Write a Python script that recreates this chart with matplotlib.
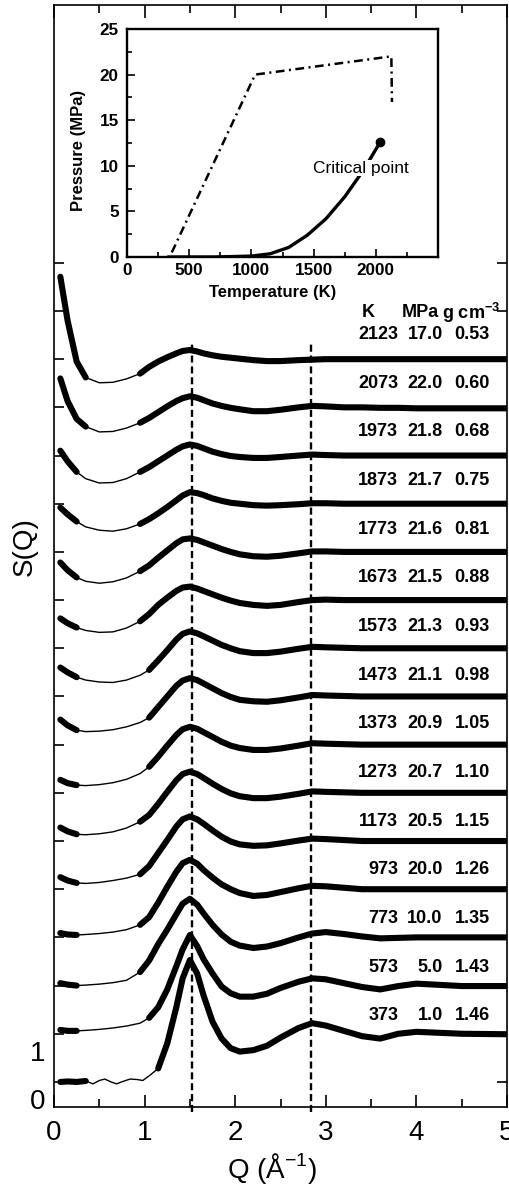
import matplotlib.pyplot as plt
import numpy as np
from matplotlib.ticker import MultipleLocator
from matplotlib.transforms import ScaledTranslation

plt.rcParams['font.family'] = ['Liberation Sans', 'DejaVu Sans']
plt.rcParams['mathtext.fontset'] = 'custom'
plt.rcParams['mathtext.rm'] = 'Liberation Sans'
plt.rcParams['mathtext.bf'] = 'Liberation Sans:bold'

# --- table of states, bottom curve first ---
temps = ['373', '573', '773', '973', '1173', '1273', '1373', '1473', '1573',
         '1673', '1773', '1873', '1973', '2073', '2123']
pressures = ['1.0', '5.0', '10.0', '20.0', '20.5', '20.7', '20.9', '21.1', '21.3',
             '21.5', '21.6', '21.7', '21.8', '22.0', '17.0']
densities = ['1.46', '1.43', '1.35', '1.26', '1.15', '1.10', '1.05', '0.98', '0.93',
             '0.88', '0.81', '0.75', '0.68', '0.60', '0.53']

# --- S(Q) ---
q = [0.07, 0.15, 0.25, 0.35, 0.5, 0.65, 0.8, 0.95, 1.05, 1.15, 1.25, 1.35, 1.42, 1.5,
     1.58, 1.65, 1.75, 1.85, 1.95, 2.05, 2.2, 2.35, 2.5, 2.7, 2.85, 3.0, 3.2, 3.4,
     3.6, 3.8, 4.0, 4.5, 5.0]

s_373 = [0.0, 0.01, 0.0, 0.02, 0.03, 0.0, 0.03, 0.04, 0.14, 0.28, 0.80, 1.55, 2.15, 2.53,
         2.25, 1.80, 1.25, 0.90, 0.70, 0.63, 0.66, 0.75, 0.92, 1.12, 1.22, 1.17, 1.06, 0.95,
         0.90, 1.0, 1.04, 1.0, 0.99]
s_573 = [0.08, 0.06, 0.06, 0.07, 0.09, 0.12, 0.16, 0.22, 0.33, 0.55, 0.92, 1.40, 1.75, 2.05,
         1.82, 1.55, 1.25, 0.98, 0.84, 0.77, 0.77, 0.83, 0.95, 1.08, 1.15, 1.13, 1.05, 0.97,
         0.92, 0.99, 1.04, 0.99, 0.99]
s_773 = [0.05, 0.02, 0.0, 0.01, 0.03, 0.06, 0.11, 0.28, 0.52, 0.86, 1.16, 1.48, 1.70, 1.80,
         1.68, 1.50, 1.26, 1.06, 0.91, 0.83, 0.78, 0.81, 0.88, 1.0, 1.08, 1.11, 1.07, 1.02,
         0.98, 0.99, 1.0, 1.0, 1.0]
s_973 = [0.09, 0.06, 0.05, 0.06, 0.08, 0.11, 0.16, 0.26, 0.42, 0.72, 1.05, 1.36, 1.54, 1.61,
         1.53, 1.40, 1.24, 1.10, 1.0, 0.92, 0.86, 0.88, 0.94, 1.02, 1.07, 1.06, 1.03, 1.0,
         1.0, 1.0, 1.0, 1.0, 1.0]
s_1173 = [0.25, 0.18, 0.13, 0.12, 0.14, 0.18, 0.23, 0.31, 0.48, 0.75, 1.02, 1.30, 1.45, 1.51,
          1.45, 1.36, 1.22, 1.09, 0.99, 0.93, 0.90, 0.91, 0.95, 1.01, 1.05, 1.04, 1.02, 1.0,
          1.0, 1.0, 1.0, 1.0, 1.0]
s_1273 = [0.28, 0.20, 0.14, 0.13, 0.15, 0.19, 0.27, 0.40, 0.54, 0.77, 1.02, 1.26, 1.39, 1.44,
          1.39, 1.31, 1.19, 1.08, 0.99, 0.93, 0.89, 0.89, 0.92, 0.98, 1.03, 1.02, 1.01, 1.0,
          1.0, 1.0, 1.0, 1.0, 1.0]
s_1373 = [0.27, 0.20, 0.16, 0.15, 0.17, 0.21, 0.28, 0.40, 0.54, 0.75, 0.98, 1.20, 1.32, 1.37,
          1.33, 1.26, 1.16, 1.06, 0.98, 0.93, 0.89, 0.89, 0.92, 0.98, 1.03, 1.02, 1.01, 1.0,
          1.0, 1.0, 1.0, 1.0, 1.0]
s_1473 = [0.52, 0.40, 0.30, 0.27, 0.28, 0.31, 0.37, 0.46, 0.56, 0.78, 1.00, 1.22, 1.33, 1.38,
          1.34, 1.27, 1.17, 1.07, 0.99, 0.93, 0.90, 0.89, 0.92, 0.98, 1.03, 1.02, 1.01, 1.0,
          1.0, 1.0, 1.0, 1.0, 1.0]
s_1573 = [0.60, 0.50, 0.40, 0.34, 0.30, 0.29, 0.34, 0.44, 0.55, 0.75, 0.96, 1.18, 1.30, 1.35,
          1.31, 1.25, 1.16, 1.07, 1.0, 0.94, 0.90, 0.90, 0.93, 0.99, 1.03, 1.02, 1.01, 1.0,
          1.0, 1.0, 1.0, 1.0, 1.0]
s_1673 = [0.62, 0.52, 0.43, 0.37, 0.33, 0.34, 0.42, 0.56, 0.71, 0.90, 1.05, 1.19, 1.26, 1.28,
          1.24, 1.19, 1.12, 1.05, 0.99, 0.94, 0.90, 0.88, 0.90, 0.96, 1.0, 1.01, 1.0, 1.0,
          1.0, 1.0, 1.0, 1.0, 1.0]
s_1773 = [0.78, 0.62, 0.47, 0.39, 0.35, 0.38, 0.46, 0.60, 0.72, 0.88, 1.03, 1.18, 1.26, 1.28,
          1.25, 1.20, 1.13, 1.06, 1.0, 0.95, 0.91, 0.90, 0.92, 0.97, 1.01, 1.01, 1.0, 1.0,
          1.0, 1.0, 1.0, 1.0, 1.0]
s_1873 = [0.92, 0.78, 0.63, 0.52, 0.45, 0.43, 0.48, 0.58, 0.68, 0.80, 0.93, 1.07, 1.17, 1.24,
          1.22, 1.18, 1.11, 1.06, 1.02, 1.0, 0.97, 0.96, 0.97, 0.99, 1.01, 1.01, 1.0, 1.0,
          1.0, 1.0, 1.0, 1.0, 1.0]
s_1973 = [1.10, 0.88, 0.66, 0.52, 0.43, 0.44, 0.52, 0.66, 0.76, 0.88, 1.0, 1.12, 1.19, 1.23,
          1.20, 1.15, 1.08, 1.03, 0.99, 0.97, 0.95, 0.95, 0.97, 1.0, 1.02, 1.01, 1.0, 1.0,
          1.0, 1.0, 1.0, 1.0, 1.0]
s_2073 = [1.60, 1.13, 0.76, 0.60, 0.49, 0.50, 0.57, 0.68, 0.78, 0.90, 1.02, 1.13, 1.19, 1.23,
          1.20, 1.15, 1.08, 1.03, 0.99, 0.96, 0.92, 0.92, 0.95, 1.0, 1.03, 1.02, 1.0, 1.0,
          0.99, 0.99, 0.98, 0.98, 0.98]
s_2123 = [2.71, 1.80, 0.95, 0.62, 0.51, 0.52, 0.59, 0.70, 0.84, 0.95, 1.04, 1.12, 1.17, 1.19,
          1.16, 1.12, 1.08, 1.05, 1.03, 1.01, 0.98, 0.96, 0.96, 0.98, 0.99, 1.0, 1.0, 1.0,
          1.0, 1.0, 1.0, 1.0, 1.0]

# wiggly fit line of the 373 K curve between the data blocks
q_fit_373 = [0.35, 0.43, 0.5, 0.56, 0.63, 0.69, 0.76, 0.84, 0.92, 0.98, 1.06, 1.15]
s_fit_373 = [0.02, -0.04, 0.03, 0.06, 0.0, -0.04, 0.01, 0.06, 0.05, 0.03, 0.14, 0.28]

# where the measured points stop at low Q and start again
lo_end = [0.35, 0.25, 0.25, 0.25, 0.25, 0.25, 0.25, 0.25, 0.25, 0.25, 0.25, 0.25, 0.25, 0.35, 0.35]
hi_start = [1.15, 1.05, 0.95, 0.95, 0.95, 0.95, 1.05, 1.05, 1.05, 0.95, 0.95, 0.95, 0.95, 0.95, 0.95]

peak_q = [1.52, 2.84]

# --- inset: path in the p-T plane ---
path_t = [360, 1030, 2125, 2130]
path_p = [0.5, 20.0, 22.0, 17.0]
vp_t = [330, 700, 1000, 1150, 1300, 1450, 1600, 1750, 1900, 2035]
vp_p = [0.0, 0.0, 0.1, 0.35, 1.05, 2.4, 4.2, 6.6, 9.5, 12.6]

curves = [s_373, s_573, s_773, s_973, s_1173, s_1273, s_1373, s_1473, s_1573,
          s_1673, s_1773, s_1873, s_1973, s_2073, s_2123]

W, H = 509, 1187
fig = plt.figure(figsize=(W / 100, H / 100), dpi=100)
ax = fig.add_axes([54 / W, 80 / H, 453 / W, 1102 / H])

qa = np.array(q)
for i, s in enumerate(curves):
    y = np.array(s) + i
    if i == 0:
        ax.plot(q_fit_373, np.array(s_fit_373) + i, color='k', lw=1.0)
    else:
        mid = (qa >= lo_end[i]) & (qa <= hi_start[i])
        ax.plot(qa[mid], y[mid], color='k', lw=1.0)
    lo = qa <= lo_end[i]
    hi = qa >= hi_start[i]
    for m in (lo, hi):
        ax.plot(qa[m], y[m], color='k', lw=4.4, solid_capstyle='round',
                solid_joinstyle='round')

ax.vlines(peak_q, -0.62, 15.35, colors='k', lw=1.7, linestyles=(0, (3, 1.6)),
          clip_on=False)

# state labels
for i in range(len(temps)):
    yy = 1.37 + i * 1.01
    for xx, txt in zip([3.80, 4.29, 4.81], [temps[i], pressures[i], densities[i]]):
        ax.text(xx, yy, txt, ha='right', va='center', fontsize=13, fontweight='bold')
hy = 15.96
ax.text(3.47, hy, 'K', ha='center', va='center', fontsize=13, fontweight='bold')
ax.text(4.04, hy, 'MPa', ha='center', va='center', fontsize=13, fontweight='bold')
ax.text(4.60, hy, r'g cm$^{\mathbf{-3}}$', ha='center', va='center', fontsize=13,
        fontweight='bold')

ax.set_xlim(0, 5)
ax.set_ylim(-0.52, 22.35)
ax.set_xticks(range(6))
ax.xaxis.set_minor_locator(MultipleLocator(0.5))
ax.set_yticks(range(18))
ax.set_yticklabels(['0', '1'] + [''] * 16)
ax.tick_params(axis='x', which='both', direction='in', top=True, bottom=True,
               width=1.2, labelsize=20, pad=9)
ax.tick_params(axis='x', which='major', length=9)
ax.tick_params(axis='x', which='minor', length=5.5)
ax.tick_params(axis='y', which='major', direction='in', left=True, right=True,
               length=7, width=1.2, labelsize=20, pad=6)
shift = ScaledTranslation(0, -17 / 100, fig.dpi_scale_trans)
for lab in ax.get_yticklabels():
    lab.set_transform(lab.get_transform() + shift)
for sp in ax.spines.values():
    sp.set_linewidth(1.2)

fig.text(272 / W, 1 - 1168 / H, r'Q (Å$^{-1}$)', ha='center', va='center', fontsize=20)
fig.text(25 / W, 1 - 547 / H, 'S(Q)', rotation=90, ha='center', va='center', fontsize=20)

# --- inset ---
axin = fig.add_axes([127 / W, (H - 257) / H, 311 / W, 228 / H])
axin.plot(path_t, path_p, color='k', lw=1.8, dashes=[3.5, 1.8, 0.8, 1.8])
axin.plot(vp_t, vp_p, color='k', lw=2.4, solid_capstyle='round')
axin.plot(vp_t[-1], vp_p[-1], 'o', color='k', ms=6)
axin.text(1495, 9.75, 'Critical point', fontsize=12.5, va='center', zorder=5,
          bbox=dict(fc='white', ec='none', pad=0.5))
axin.set_xlim(0, 2500)
axin.set_ylim(0, 25)
axin.set_xticks([0, 500, 1000, 1500, 2000])
axin.set_yticks([0, 5, 10, 15, 20, 25])
axin.xaxis.set_minor_locator(MultipleLocator(250))
axin.yaxis.set_minor_locator(MultipleLocator(2.5))
axin.tick_params(which='both', direction='in', width=1.2, labelsize=12.3)
axin.tick_params(which='major', length=6)
axin.tick_params(which='minor', length=3.5)
axin.tick_params(axis='x', pad=4)
axin.tick_params(axis='y', pad=6)
for lab in axin.get_xticklabels() + axin.get_yticklabels():
    lab.set_fontweight('bold')
for sp in axin.spines.values():
    sp.set_linewidth(1.7)
fig.text(273 / W, 1 - 293 / H, 'Temperature (K)', ha='center', va='center',
         fontsize=12, fontweight='bold')
fig.text(78 / W, 1 - 150 / H, 'Pressure (MPa)', rotation=90, ha='center', va='center',
         fontsize=12, fontweight='bold')

fig.savefig('out.png', dpi=100)
